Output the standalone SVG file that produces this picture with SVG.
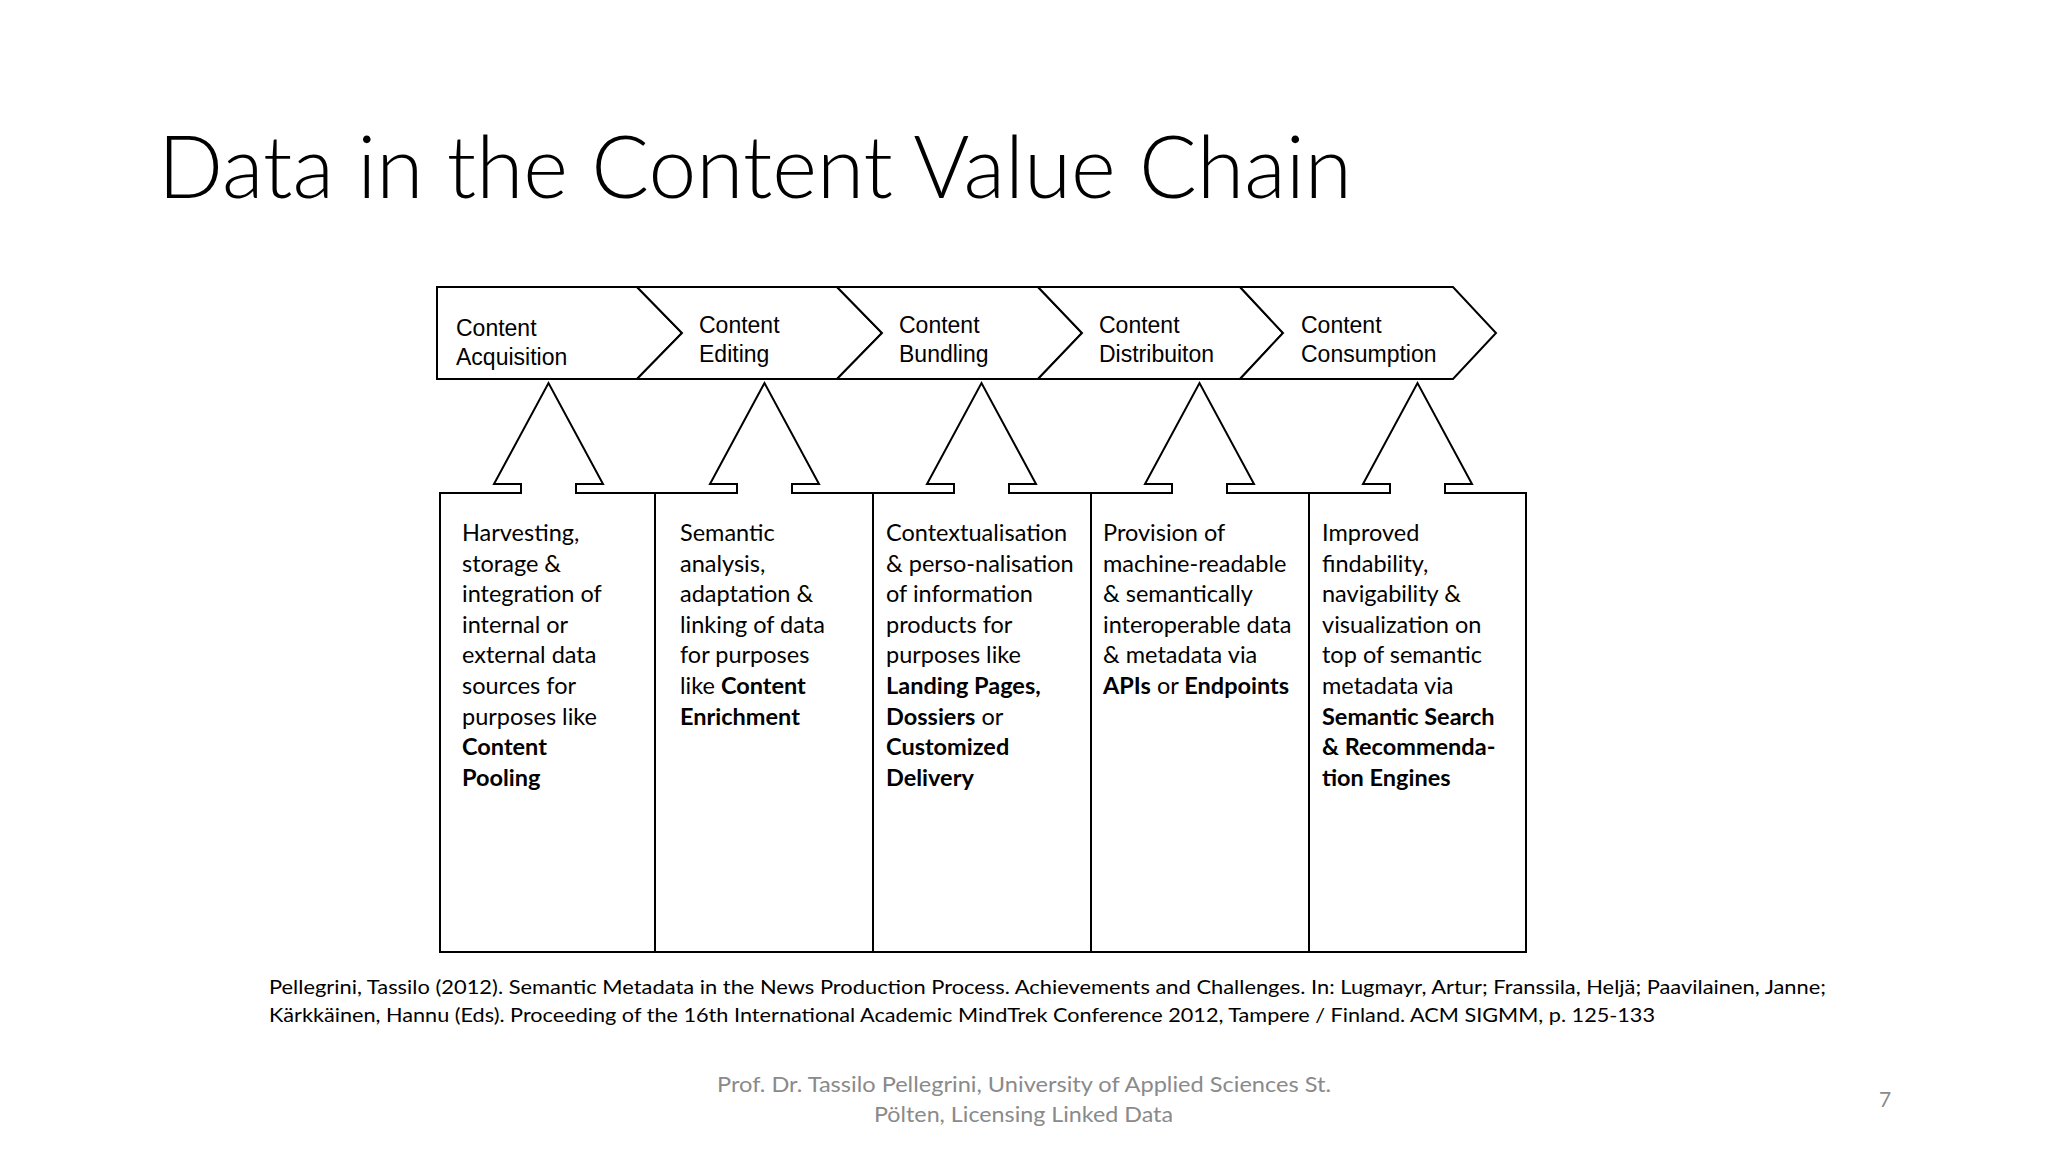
<svg xmlns="http://www.w3.org/2000/svg" width="2048" height="1152" viewBox="0 0 2048 1152">
<style>
.shape{fill:#fff;stroke:#000;stroke-width:2;stroke-linejoin:miter}
.chev{font-family:"Liberation Sans",Arial,sans-serif;font-size:23px;fill:#000}
.box{font-family:Lato,"Open Sans",sans-serif;font-size:23.5px;fill:#000}
.b{font-weight:bold}
.title{font-family:Lato,"Open Sans",sans-serif;font-weight:300;font-size:86px;fill:#000}
.cite{font-family:Lato,"Open Sans",sans-serif;font-size:20px;fill:#000}
.foot{font-family:Lato,"Open Sans",sans-serif;font-size:21px;fill:#8a8a8a}
</style>
<rect width="2048" height="1152" fill="#fff"/>
<text class="title" x="158" y="198" textLength="1194" lengthAdjust="spacingAndGlyphs">Data in the Content Value Chain</text>

<g id="chain">
<g id="stage1"><polygon class="shape" points="437,287 637,287 682,333 637,379 437,379"/>
<text class="chev" x="456" y="336">Content</text><text class="chev" x="456" y="365">Acquisition</text></g>
<g id="stage2"><polygon class="shape" points="637,287 837,287 882,333 837,379 637,379 682,333"/>
<text class="chev" x="699" y="333">Content</text><text class="chev" x="699" y="362">Editing</text></g>
<g id="stage3"><polygon class="shape" points="837,287 1038,287 1082,333 1038,379 837,379 882,333"/>
<text class="chev" x="899" y="333">Content</text><text class="chev" x="899" y="362">Bundling</text></g>
<g id="stage4"><polygon class="shape" points="1038,287 1240,287 1283,333 1240,379 1038,379 1082,333"/>
<text class="chev" x="1099" y="333">Content</text><text class="chev" x="1099" y="362">Distribuiton</text></g>
<g id="stage5"><polygon class="shape" points="1240,287 1453,287 1496,333 1453,379 1240,379 1283,333"/>
<text class="chev" x="1301" y="333">Content</text><text class="chev" x="1301" y="362">Consumption</text></g>
</g>

<g id="box1"><path class="shape" d="M440,493 H521 V484 H494 L548.5,383 L603,484 H576 V493 H655 V952 H440 Z"/>
<text class="box" x="462" y="541">Harvesting,</text>
<text class="box" x="462" y="571.6">storage &amp;</text>
<text class="box" x="462" y="602.2">integration of</text>
<text class="box" x="462" y="632.8">internal or</text>
<text class="box" x="462" y="663.4">external data</text>
<text class="box" x="462" y="694">sources for</text>
<text class="box" x="462" y="724.6">purposes like</text>
<text class="box b" x="462" y="755.2">Content</text>
<text class="box b" x="462" y="785.8">Pooling</text>
</g>
<g id="box2"><path class="shape" d="M655,493 H737 V484 H710 L764.5,383 L819,484 H792 V493 H873 V952 H655 Z"/>
<text class="box" x="680" y="541">Semantic</text>
<text class="box" x="680" y="571.6">analysis,</text>
<text class="box" x="680" y="602.2">adaptation &amp;</text>
<text class="box" x="680" y="632.8">linking of data</text>
<text class="box" x="680" y="663.4">for purposes</text>
<text class="box" x="680" y="694">like <tspan class="b">Content</tspan></text>
<text class="box b" x="680" y="724.6">Enrichment</text>
</g>
<g id="box3"><path class="shape" d="M873,493 H954 V484 H927 L981.5,383 L1036,484 H1009 V493 H1091 V952 H873 Z"/>
<text class="box" x="886" y="541">Contextualisation</text>
<text class="box" x="886" y="571.6">&amp; perso-nalisation</text>
<text class="box" x="886" y="602.2">of information</text>
<text class="box" x="886" y="632.8">products for</text>
<text class="box" x="886" y="663.4">purposes like</text>
<text class="box b" x="886" y="694">Landing Pages,</text>
<text class="box" x="886" y="724.6"><tspan class="b">Dossiers</tspan> or</text>
<text class="box b" x="886" y="755.2">Customized</text>
<text class="box b" x="886" y="785.8">Delivery</text>
</g>
<g id="box4"><path class="shape" d="M1091,493 H1172 V484 H1145 L1199.5,383 L1254,484 H1227 V493 H1309 V952 H1091 Z"/>
<text class="box" x="1103" y="541">Provision of</text>
<text class="box" x="1103" y="571.6">machine-readable</text>
<text class="box" x="1103" y="602.2">&amp; semantically</text>
<text class="box" x="1103" y="632.8">interoperable data</text>
<text class="box" x="1103" y="663.4">&amp; metadata via</text>
<text class="box" x="1103" y="694"><tspan class="b">APIs</tspan> or <tspan class="b">Endpoints</tspan></text>
</g>
<g id="box5"><path class="shape" d="M1309,493 H1390 V484 H1363 L1417.5,383 L1472,484 H1445 V493 H1526 V952 H1309 Z"/>
<text class="box" x="1322" y="541">Improved</text>
<text class="box" x="1322" y="571.6">findability,</text>
<text class="box" x="1322" y="602.2">navigability &amp;</text>
<text class="box" x="1322" y="632.8">visualization on</text>
<text class="box" x="1322" y="663.4">top of semantic</text>
<text class="box" x="1322" y="694">metadata via</text>
<text class="box b" x="1322" y="724.6">Semantic Search</text>
<text class="box b" x="1322" y="755.2">&amp; Recommenda-</text>
<text class="box b" x="1322" y="785.8">tion Engines</text>
</g>

<text class="cite" x="269" y="994" textLength="1557" lengthAdjust="spacingAndGlyphs">Pellegrini, Tassilo (2012). Semantic Metadata in the News Production Process. Achievements and Challenges. In: Lugmayr, Artur; Franssila, Heljä; Paavilainen, Janne;</text>
<text class="cite" x="269" y="1022" textLength="1386" lengthAdjust="spacingAndGlyphs">Kärkkäinen, Hannu (Eds). Proceeding of the 16th International Academic MindTrek Conference 2012, Tampere / Finland. ACM SIGMM, p. 125-133</text>

<text class="foot" x="717" y="1092" textLength="614" lengthAdjust="spacingAndGlyphs">Prof. Dr. Tassilo Pellegrini, University of Applied Sciences St.</text>
<text class="foot" x="874" y="1122" textLength="299" lengthAdjust="spacingAndGlyphs">Pölten, Licensing Linked Data</text>
<text class="foot" x="1879" y="1107">7</text>
</svg>
